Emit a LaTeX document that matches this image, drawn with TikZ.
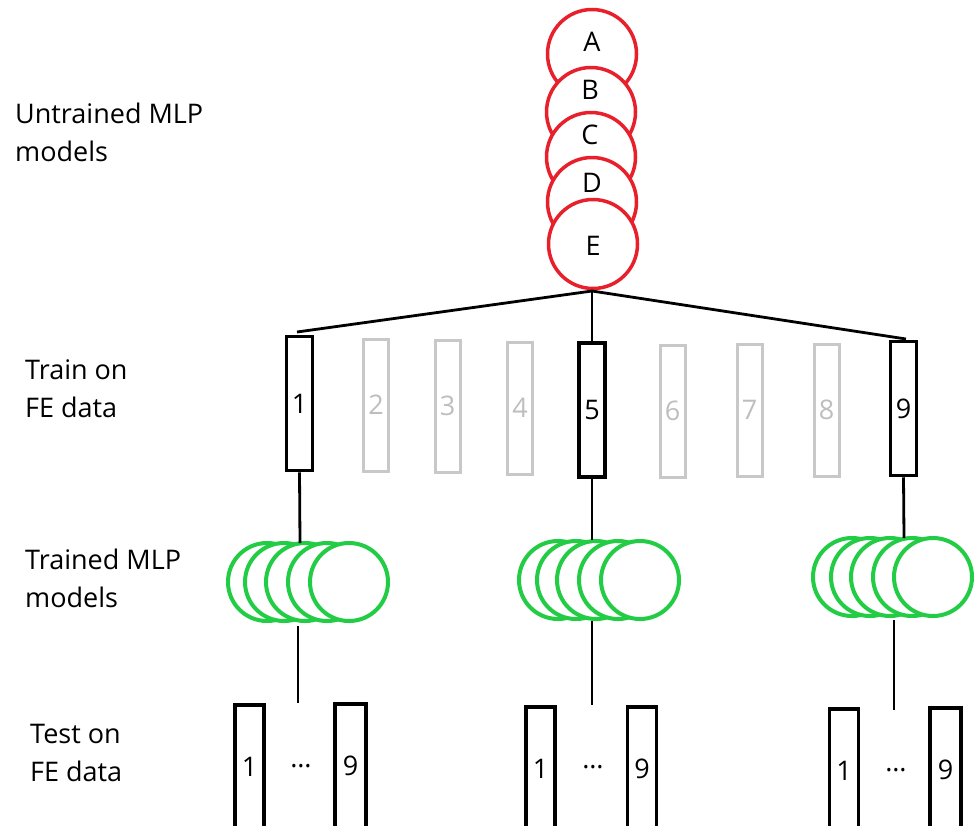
\documentclass[tikz,border=0pt]{standalone}
\usepackage{fontspec}
\setmainfont{Open Sans}
\definecolor{myred}{RGB}{232,32,44}
\definecolor{mygreen}{RGB}{34,204,68}
\definecolor{boxgrey}{RGB}{200,200,200}
\definecolor{txtgrey}{RGB}{190,190,190}
\begin{document}
\begin{tikzpicture}[x=1pt,y=-1pt,
  every node/.style={inner sep=0pt, font=\fontsize{27}{38}\selectfont},
  redc/.style={circle, draw=myred, line width=3.5pt, fill=white, minimum size=89pt},
  greenc/.style={circle, draw=mygreen, line width=4pt, fill=white, minimum size=78pt},
  boxk/.style={rectangle, draw=black, line width=3.5pt, minimum width=26pt, minimum height=134pt},
  boxg/.style={rectangle, draw=boxgrey, line width=3pt, minimum width=25pt, minimum height=132pt, text=txtgrey},
  tbox/.style={rectangle, draw=black, line width=3.5pt, minimum width=29pt, minimum height=124pt},
  conn/.style={line width=2.8pt, black},
  lbl/.style={anchor=base west, align=left}]
\clip (0,0) rectangle (976,825);
\fill[white] (0,0) rectangle (976,825);
% left labels
\node[lbl] (l1) at (15,161) {Untrained MLP\\models};
\node[lbl] (l2) at (25,417) {Train on\\FE data};
\node[lbl] (l3) at (25,607) {Trained MLP\\models};
\node[lbl] (l4) at (30,781) {Test on\\FE data};
% untrained models
\node[redc] (rA) at (592,54) {};
\node (tA) at (592,42) {A};
\node[redc] (rB) at (591,112) {};
\node (tB) at (590,90) {B};
\node[redc] (rC) at (591,157) {};
\node (tC) at (590,135) {C};
\node[redc] (rD) at (592,202) {};
\node (tD) at (592,183) {D};
\node[redc] (rE) at (593,244) {};
\node (tE) at (593,246) {E};
% training data boxes
\node[boxk] (b1) at (299.5,403.5) {1};
\node[boxg] (b2) at (376,405) {2};
\node[boxg] (b3) at (447.5,406) {3};
\node[boxg] (b4) at (520,408) {4};
\node[boxk] (b5) at (592,410) {5};
\node[boxg] (b6) at (672.5,411) {6};
\node[boxg] (b7) at (749.5,410) {7};
\node[boxg] (b8) at (826.5,410) {8};
\node[boxk] (b9) at (903.5,408.5) {9};
% fork
\coordinate (fork) at (592,291);
\coordinate (endL) at (297,332);
\coordinate (endR) at (906,339);
\draw[conn] (fork) -- (endL);
\draw[conn] (fork) -- (endR);
\draw[conn] (fork) -- (b5.north);
% trained models
\foreach \i/\x in {1/267,2/284,3/305,4/327,5/349}{\node[greenc] (ga\i) at (\x,582) {};}
\foreach \i/\x in {1/558,2/576,3/596,4/618,5/640}{\node[greenc] (gb\i) at (\x,580) {};}
\foreach \i/\x in {1/852,2/870,3/890,4/912,5/933}{\node[greenc] (gc\i) at (\x,577) {};}
\coordinate (ga top) at (300,543);
\coordinate (gb top) at (592,540);
\coordinate (gc top) at (904,538);
\draw[conn] (b1.south) -- (ga top);
\draw[conn] (b5.south) -- (gb top);
\draw[conn] (b9.south) -- (gc top);
\coordinate (ga bot) at (298,626);
\coordinate (gb bot) at (592,621);
\coordinate (gc bot) at (894,620);
\coordinate (ga end) at (298,703);
\coordinate (gb end) at (592,705);
\coordinate (gc end) at (894,710);
\draw[conn] (ga bot) -- (ga end);
\draw[conn] (gb bot) -- (gb end);
\draw[conn] (gc bot) -- (gc end);
% test boxes
\node[tbox] (ta1) at (249.5,767) {1};
\node (tad) at (301,766) {…};
\node[tbox, minimum width=31pt] (ta9) at (350.5,766) {9};
\node[tbox] (tb1) at (540.5,769) {1};
\node (tbd) at (593,767) {…};
\node[tbox] (tb9) at (642,769) {9};
\node[tbox] (tc1) at (844,771) {1};
\node (tcd) at (896,770) {…};
\node[tbox, minimum width=31pt] (tc9) at (945.5,770) {9};
\end{tikzpicture}
\end{document}
